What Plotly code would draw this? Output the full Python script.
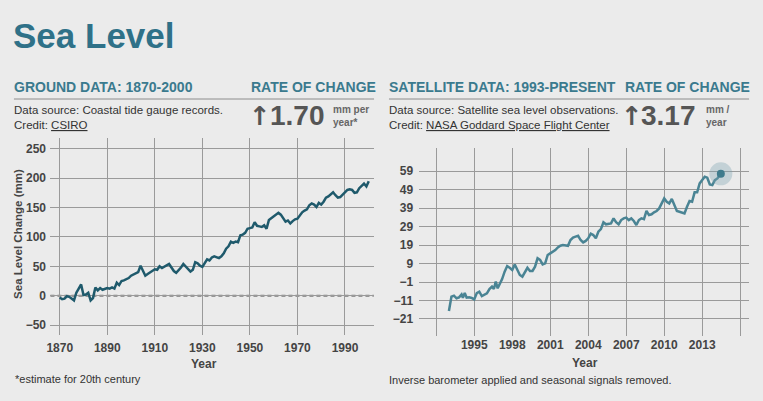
import plotly.graph_objects as go

W, H = 763, 401

# ground (tide gauge) data
ground_years = list(range(1870, 2001))
ground_mm = [
    -3, -6, -5, -1, -2, -5, -8, 5, 12, 19,
    1, 2, 5, -8, -4, 14, 9, 13, 10, 12,
    13, 12, 14, 12, 22, 18, 25, 26, 28, 30,
    34, 36, 38, 40, 51, 42, 34, 37, 40, 43,
    45, 44, 50, 47, 49, 52, 54, 48, 42, 39,
    43, 48, 54, 49, 45, 41, 44, 57, 55, 51,
    49, 55, 62, 60, 65, 67, 66, 64, 67, 72,
    80, 84, 92, 90, 92, 91, 103, 104, 107, 114,
    115, 116, 125, 119, 118, 117, 120, 114, 129, 132,
    134, 138, 141, 138, 133, 126, 128, 123, 127, 130,
    131, 137, 142, 145, 147, 154, 157, 155, 151, 158,
    155, 160, 167, 169, 172, 176, 171, 167, 168, 172,
    176, 180, 181, 180, 175, 176, 183, 187, 191, 186,
    195,
]

# satellite data
sat_years = [
    1993.0, 1993.2, 1993.4, 1993.6, 1993.8, 1994.0, 1994.1, 1994.25, 1994.4, 1994.6,
    1994.8, 1995.0, 1995.2, 1995.4, 1995.6, 1995.8, 1996.0, 1996.2, 1996.4, 1996.55,
    1996.7, 1996.85, 1997.0, 1997.2, 1997.4, 1997.6, 1997.8, 1998.0, 1998.2, 1998.4,
    1998.6, 1998.8, 1999.0, 1999.2, 1999.4, 1999.6, 1999.8, 2000.0, 2000.2, 2000.4,
    2000.6, 2000.8, 2001.0, 2001.2, 2001.4, 2001.6, 2001.8, 2002.0, 2002.2, 2002.4,
    2002.6, 2002.8, 2003.0, 2003.2, 2003.4, 2003.6, 2003.8, 2004.0, 2004.2, 2004.4,
    2004.6, 2004.8, 2005.0, 2005.2, 2005.4, 2005.6, 2005.8, 2006.0, 2006.2, 2006.4,
    2006.6, 2006.8, 2007.0, 2007.2, 2007.4, 2007.6, 2007.8, 2008.0, 2008.2, 2008.4,
    2008.6, 2008.8, 2009.0, 2009.2, 2009.4, 2009.6, 2009.8, 2010.0, 2010.2, 2010.4,
    2010.6, 2010.8, 2011.0, 2011.2, 2011.4, 2011.6, 2011.8, 2012.0, 2012.2, 2012.4,
    2012.6, 2012.8, 2013.0, 2013.2, 2013.4, 2013.6, 2013.8, 2014.0, 2014.2, 2014.47,
]
sat_mm = [
    -16.7, -8.9, -8.4, -9.8, -9.3, -7.7, -9.5, -7.0, -9.5, -9.3,
    -9.6, -10.4, -7.0, -6.2, -8.6, -7.7, -7.1, -4.8, -3.5, -4.8,
    -0.8, -4.4, -2.6, 0.6, 4.6, 7.6, 6.7, 5.5, 8.5, 5.5,
    2.8, 1.9, 4.6, 6.7, 5.0, 5.0, 7.3, 11.8, 10.9, 8.5,
    9.1, 13.6, 14.5, 15.4, 16.3, 17.7, 18.6, 19.0, 19.0, 18.6,
    21.7, 23.0, 23.5, 24.0, 21.7, 20.4, 21.2, 22.6, 25.1, 24.4,
    22.6, 26.2, 27.6, 31.3, 30.2, 30.5, 30.7, 33.4, 31.3, 30.2,
    32.5, 33.4, 33.8, 32.5, 33.4, 32.0, 29.8, 32.5, 33.4, 33.0,
    37.4, 35.2, 35.6, 36.7, 37.4, 38.8, 41.5, 44.2, 42.4, 41.5,
    43.9, 41.0, 37.4, 37.0, 36.7, 36.1, 39.7, 42.8, 42.4, 47.5,
    47.5, 52.3, 54.1, 55.9, 55.4, 51.8, 51.4, 54.1, 55.0, 57.5,
]

ground_yticks = [-50, 0, 50, 100, 150, 200, 250]
ground_xticks = [1870, 1890, 1910, 1930, 1950, 1970, 1990]
sat_yticks = [-21, -11, -1, 9, 19, 29, 39, 49, 59]
sat_xticks = [1992, 1995, 1998, 2001, 2004, 2007, 2010, 2013, 2016]
sat_xlabels = ["", "1995", "1998", "2001", "2004", "2007", "2010", "2013", ""]

BG = "#ebebeb"
GRID = "#9a9a9a"
TEAL = "#2f7188"
SANS = "Liberation Sans, Arial, sans-serif"


def px(x):
    return x / W


def py(y):
    return 1 - y / H


fig = go.Figure()

fig.add_trace(go.Scatter(
    x=ground_years, y=ground_mm, mode="lines",
    line=dict(color="#1f5a6c", width=2.5),
    xaxis="x", yaxis="y", hoverinfo="skip",
))
fig.add_trace(go.Scatter(
    x=sat_years, y=sat_mm, mode="lines",
    line=dict(color="#4a8494", width=2.5),
    xaxis="x2", yaxis="y2", hoverinfo="skip",
))
# halo + dot on the latest reading
fig.add_trace(go.Scatter(
    x=sat_years[-1:], y=sat_mm[-1:], mode="markers",
    marker=dict(size=23, color="rgba(120,160,175,0.35)"),
    xaxis="x2", yaxis="y2", hoverinfo="skip",
))
fig.add_trace(go.Scatter(
    x=sat_years[-1:], y=sat_mm[-1:], mode="markers",
    marker=dict(size=8, color="#3f7b8c"),
    xaxis="x2", yaxis="y2", hoverinfo="skip",
))

axis_common = dict(showgrid=True, gridcolor=GRID, gridwidth=1, zeroline=False,
                   showline=False, fixedrange=True)
tick_font = dict(family=SANS, size=12, color="#444", weight="bold")

fig.update_layout(
    width=W, height=H, autosize=False,
    margin=dict(l=0, r=0, t=0, b=0),
    paper_bgcolor=BG, plot_bgcolor=BG,
    showlegend=False,
    xaxis=dict(domain=[px(46.7), px(371.7)], range=[1866.1, 2002.1], anchor="y",
               tickmode="array", tickvals=ground_xticks,
               ticks="outside", ticklen=2, tickcolor="rgba(0,0,0,0)",
               tickfont=tick_font, **axis_common),
    yaxis=dict(domain=[py(335), py(138.3)], range=[-67, 268], anchor="x",
               tickmode="array", tickvals=ground_yticks,
               ticks="outside", ticklen=1, tickcolor="rgba(0,0,0,0)",
               tickfont=tick_font, **axis_common),
    xaxis2=dict(domain=[px(416.7), px(749)], range=[1990.6, 2016.7], anchor="y2",
                tickmode="array", tickvals=sat_xticks, ticktext=sat_xlabels,
                ticks="", tickfont=tick_font, **axis_common),
    yaxis2=dict(domain=[py(336), py(148.3)], range=[-30.2, 71.3], anchor="x2",
                tickmode="array", tickvals=sat_yticks,
                ticks="outside", ticklen=2, tickcolor="rgba(0,0,0,0)",
                tickfont=tick_font, **axis_common),
)

# dashed zero line on the tide gauge chart (background strip hides the solid grid line)
fig.add_shape(type="line", xref="x domain", yref="y", x0=0, x1=1, y0=0, y1=0,
              line=dict(color=BG, width=4), layer="below")
fig.add_shape(type="line", xref="x domain", yref="y", x0=0, x1=1, y0=0, y1=0,
              line=dict(color="#7c7c7c", width=2, dash="4px,3px"), layer="below")

# header rules
for x0, x1 in [(10, 372), (387, 749)]:
    fig.add_shape(type="line", xref="paper", yref="paper",
                  x0=px(x0), x1=px(x1), y0=py(99), y1=py(99),
                  line=dict(color="#8c8c8c", width=1))


def label(text, x, y, size, color="#333", family=SANS, xanchor="left", angle=0, weight="normal"):
    fig.add_annotation(text=text, x=px(x), y=py(y), xref="paper", yref="paper",
                       xanchor=xanchor, yanchor="middle", showarrow=False,
                       textangle=angle, borderpad=0, align="left",
                       font=dict(family=family, size=size, color=color, weight=weight))


label("Sea Level", 8, 35, 35, color=TEAL, weight="bold")

label("GROUND DATA: 1870-2000", 9, 87, 14, color="#3a7a8e", weight="bold")
label("RATE OF CHANGE", 247, 87, 14, color="#3a7a8e", weight="bold")
label("SATELLITE DATA: 1993-PRESENT", 386, 87, 14, color="#3a7a8e", weight="bold")
label("RATE OF CHANGE", 623, 87, 14, color="#3a7a8e", weight="bold")

label("Data source: Coastal tide gauge records.", 9, 110, 11.5)
label("Credit: <u>CSIRO</u>", 9, 125, 11.5)
label("Data source: Satellite sea level observations.", 386, 110, 11.5)
label("Credit: <u>NASA Goddard Space Flight Center</u>", 386, 125, 11.5)

label("↑", 245, 116, 26, color="#555", family="DejaVu Sans", weight="bold")
label("1.70", 266, 116, 28, color="#555", weight="bold")
label("mm per<br>year*", 330, 116, 10, color="#666", weight="bold")

label("↑", 619, 116, 26, color="#555", family="DejaVu Sans", weight="bold")
label("3.17", 639, 116, 28, color="#555", weight="bold")
label("mm /<br>year", 705, 116, 10, color="#666", weight="bold")

label("Sea Level Change (mm)", 14, 234, 11.5, color="#444",
      xanchor="center", angle=-90, weight="bold")
label("Year", 201, 364, 12, color="#444", xanchor="center", weight="bold")
label("Year", 584, 363, 12, color="#444", xanchor="center", weight="bold")

label("*estimate for 20th century", 10, 379, 11)
label("Inverse barometer applied and seasonal signals removed.", 386, 380, 11)

fig.write_html("out.html", config={"displayModeBar": False},
               post_script="document.body.style.margin = '0';")
